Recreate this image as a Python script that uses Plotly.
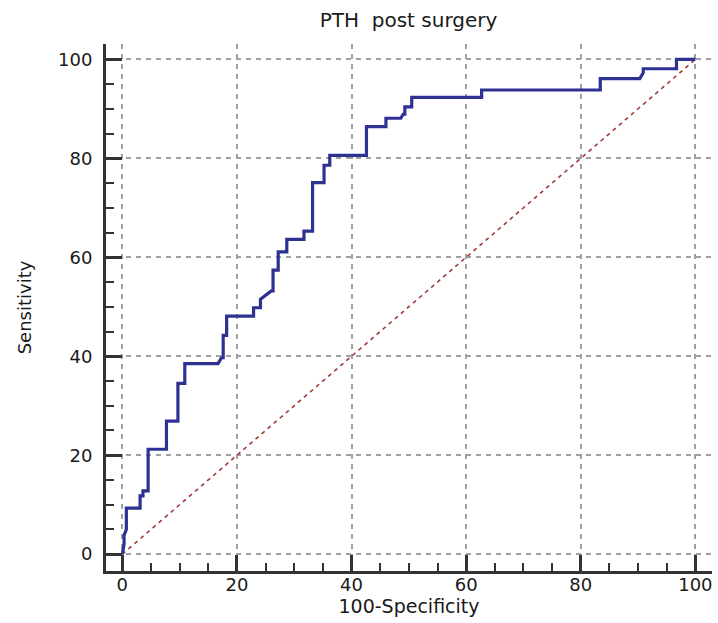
import plotly.graph_objects as go

# ROC curve vertices (100-Specificity, Sensitivity)
fpr = [0, 0.3, 0.3, 0.7, 0.7, 3.1, 3.1, 3.6, 3.6, 4.5, 4.5, 7.7, 7.7, 9.7, 9.7,
       10.9, 10.9, 16.7, 17.3, 17.6, 17.6, 18.2, 18.2, 22.9, 22.9, 24.1, 24.1,
       26.0, 26.3, 26.3, 27.2, 27.2, 28.7, 28.7, 31.7, 31.7, 33.2, 33.2, 35.2,
       35.2, 36.2, 36.2, 42.6, 42.6, 46.0, 46.0, 48.6, 49.0, 49.3, 49.3, 50.5,
       50.5, 62.7, 62.7, 83.4, 83.4, 90.3, 90.9, 90.9, 96.7, 96.7, 100]
tpr = [0, 2.0, 3.8, 5.0, 9.3, 9.3, 11.8, 11.8, 12.8, 12.8, 21.2, 21.2, 26.9, 26.9,
       34.5, 34.5, 38.5, 38.5, 39.7, 39.7, 44.2, 44.2, 48.1, 48.1, 49.8, 49.8,
       51.5, 53.2, 53.2, 57.4, 57.4, 61.1, 61.1, 63.6, 63.6, 65.3, 65.3, 75.1,
       75.1, 78.6, 78.6, 80.6, 80.6, 86.4, 86.4, 88.1, 88.1, 88.9, 88.9, 90.4,
       90.4, 92.3, 92.3, 93.8, 93.8, 96.1, 96.1, 97.3, 98.1, 98.1, 100, 100]

diag_x = [0, 100]
diag_y = [0, 100]

tick_vals = [0, 20, 40, 60, 80, 100]
tick_text = ["0", "20", "40", "60", "80", "100"]

title_text = "PTH  post surgery"
x_title = "100-Specificity"
y_title = "Sensitivity"

font_family = "DejaVu Sans, Verdana, sans-serif"
txt_color = "#1a1a1a"

fig = go.Figure()
fig.add_trace(go.Scatter(x=diag_x, y=diag_y, mode="lines",
                         line=dict(color="#A33A3A", width=1.6, dash="4px,4px"),
                         hoverinfo="skip", showlegend=False))
fig.add_trace(go.Scatter(x=fpr, y=tpr, mode="lines",
                         line=dict(color="#2E3192", width=3.2),
                         showlegend=False))

axis_common = dict(
    showline=True, linewidth=3, linecolor="#333333",
    ticks="inside", ticklen=16, tickwidth=3, tickcolor="#333333",
    tickvals=tick_vals, ticktext=tick_text,
    showgrid=True, gridcolor="#A0A0A0", gridwidth=1.5, griddash="5px,5px",
    zeroline=False,
    minor=dict(ticks="inside", ticklen=8, tickwidth=2, tickcolor="#333333",
               dtick=5, tick0=0, showgrid=False),
    tickfont=dict(family=font_family, size=18, color=txt_color),
    mirror=False,
)

fig.update_xaxes(range=[-2.85, 102.9], **axis_common, ticklabelstandoff=-5,
                 title=dict(text=x_title, standoff=5,
                            font=dict(family=font_family, size=19, color=txt_color)))
fig.update_yaxes(range=[-3.4, 103.1], **axis_common, ticklabelstandoff=7,
                 title=dict(text=y_title, standoff=22,
                            font=dict(family=font_family, size=18, color=txt_color)))

fig.update_layout(
    width=718, height=623,
    margin=dict(l=106, r=6, t=44, b=52),
    paper_bgcolor="white", plot_bgcolor="white",
    title=dict(text=title_text, x=0.569, xanchor="center", y=0.968, yanchor="middle",
               font=dict(family=font_family, size=20, color=txt_color)),
)

fig.write_html("out.html", config={"displayModeBar": False},
               post_script="document.body.style.margin='0';")
